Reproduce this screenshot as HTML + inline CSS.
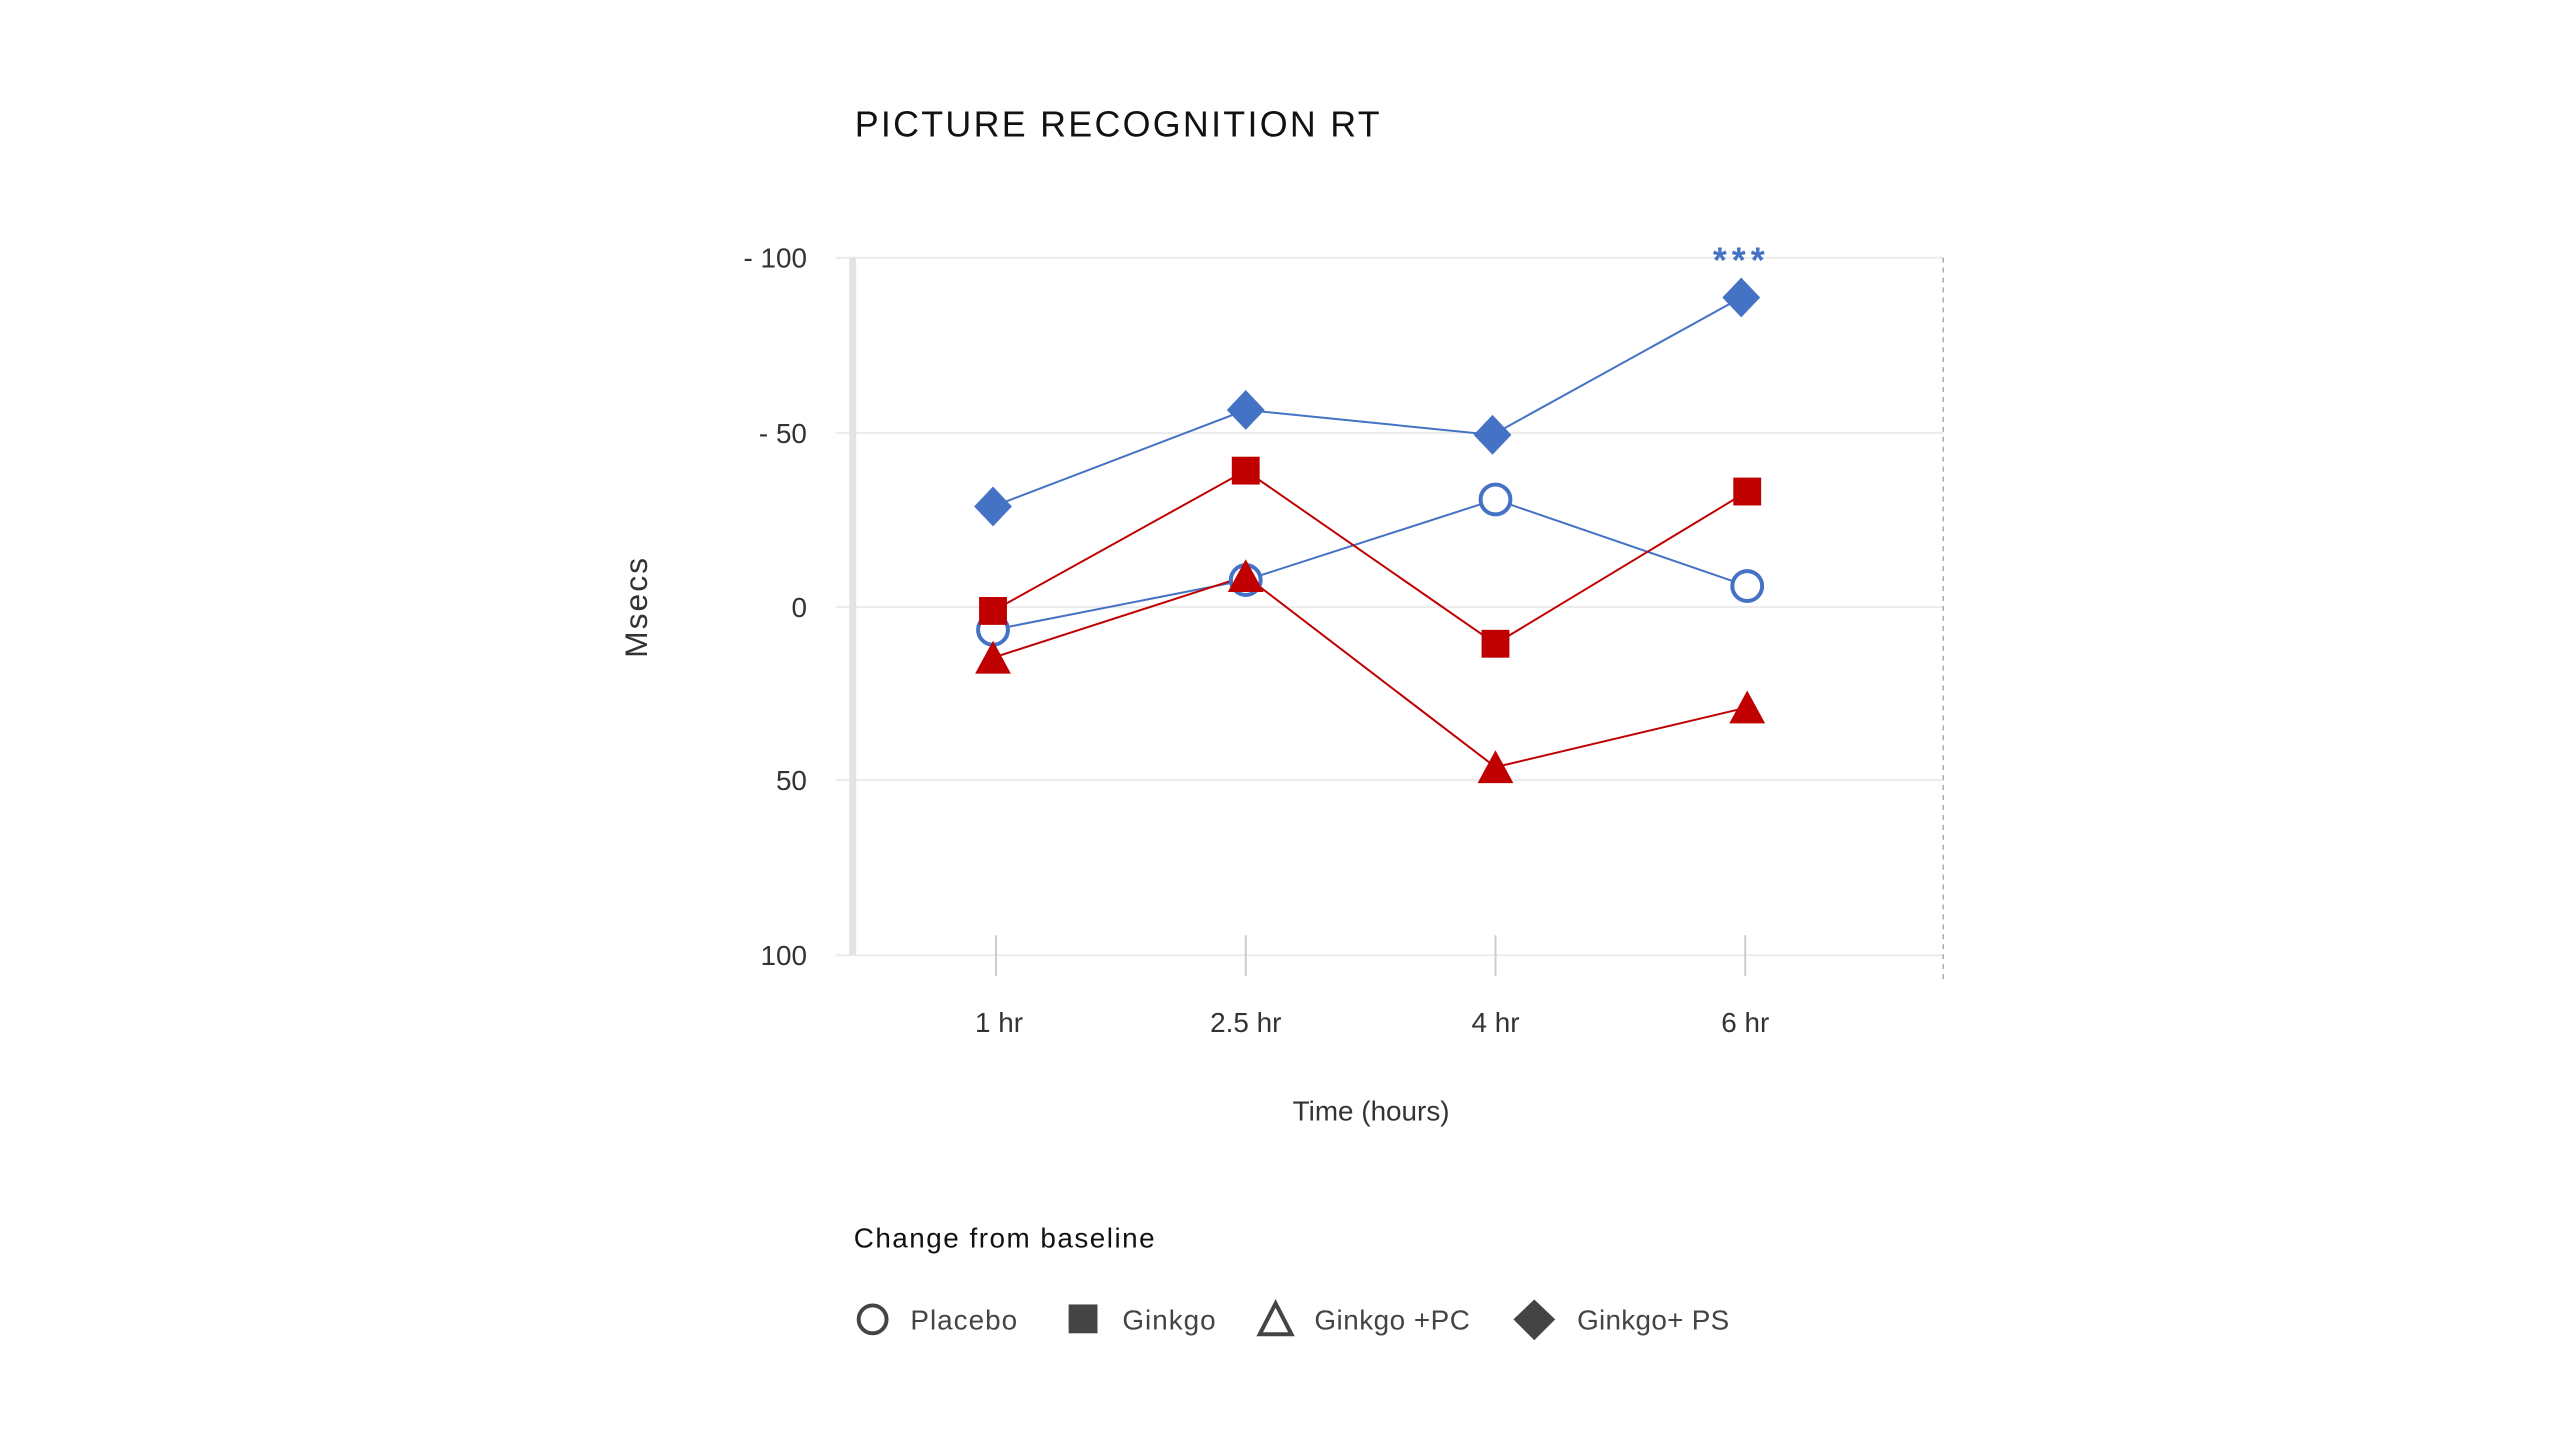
<!DOCTYPE html>
<html><head><meta charset="utf-8"><style>
html,body{margin:0;padding:0;background:#fff;}
svg{display:block;}
text{font-family:"Liberation Sans",sans-serif;}
</style></head><body>
<svg width="2560" height="1440" viewBox="0 0 2560 1440" xmlns="http://www.w3.org/2000/svg">
<rect width="2560" height="1440" fill="#fff"/>
<g transform="scale(0.995)">
<text x="859" y="137" font-size="36" fill="#111" letter-spacing="2.3">PICTURE RECOGNITION RT</text>
<g stroke="#ececec" stroke-width="2">
<line x1="840" y1="259" x2="1953" y2="259"/>
<line x1="840" y1="435" x2="1953" y2="435"/>
<line x1="840" y1="610" x2="1953" y2="610"/>
<line x1="840" y1="784" x2="1953" y2="784"/>
<line x1="840" y1="960" x2="1953" y2="960"/>
</g>
<line x1="857" y1="259" x2="857" y2="960" stroke="#e3e3e6" stroke-width="7"/>
<line x1="1953" y1="259" x2="1953" y2="985" stroke="#aaa" stroke-width="1.5" stroke-dasharray="5,5"/>
<g stroke="#ccc" stroke-width="2">
<line x1="1001" y1="940" x2="1001" y2="981"/><line x1="1252" y1="940" x2="1252" y2="981"/>
<line x1="1503" y1="940" x2="1503" y2="981"/><line x1="1754" y1="940" x2="1754" y2="981"/>
</g>
<g font-size="28" fill="#333" text-anchor="end">
<text x="811" y="269">- 100</text><text x="811" y="445">- 50</text>
<text x="811" y="620">0</text><text x="811" y="794">50</text><text x="811" y="970">100</text>
</g>
<g font-size="28" fill="#333" text-anchor="middle">
<text x="1004" y="1037">1 hr</text><text x="1252" y="1037">2.5 hr</text>
<text x="1503" y="1037">4 hr</text><text x="1754" y="1037">6 hr</text>
<text x="1378" y="1126">Time (hours)</text>
</g>
<text transform="translate(650,610) rotate(-90)" font-size="32" fill="#333" text-anchor="middle" letter-spacing="2">Msecs</text>
<polyline points="998,509 1252,412 1500,437 1750,299" fill="none" stroke="#4472C4" stroke-width="2"/>
<polyline points="998,633 1252,583 1503,502 1756,589" fill="none" stroke="#4472C4" stroke-width="2"/>
<polyline points="998,614 1252,473 1503,647 1756,494" fill="none" stroke="#C00000" stroke-width="2"/>
<polyline points="998,661 1252,579 1503,771 1756,711" fill="none" stroke="#C00000" stroke-width="2"/>
<g fill="#4472C4">
<polygon points="998,489 1017,509 998,529 979,509"/>
<polygon points="1252,392 1271,412 1252,432 1233,412"/>
<polygon points="1500,417 1519,437 1500,457 1481,437"/>
<polygon points="1750,279 1769,299 1750,319 1731,299"/>
</g>
<g fill="#fff" stroke="#4472C4" stroke-width="4">
<circle cx="998" cy="633" r="15"/><circle cx="1252" cy="583" r="15"/>
<circle cx="1503" cy="502" r="15"/><circle cx="1756" cy="589" r="15"/>
</g>
<g fill="#C00000">
<rect x="984" y="600" width="28" height="28"/><rect x="1238" y="459" width="28" height="28"/>
<rect x="1489" y="633" width="28" height="28"/><rect x="1742" y="480" width="28" height="28"/>
</g>
<g fill="#C00000">
<polygon points="998,644 1016,677 980,677"/><polygon points="1252,562 1270,595 1234,595"/>
<polygon points="1503,754 1521,787 1485,787"/><polygon points="1756,694 1774,727 1738,727"/>
</g>
<text x="1750" y="274" font-size="36" font-weight="bold" fill="#4472C4" text-anchor="middle" letter-spacing="5">***</text>
<text x="858" y="1254" font-size="28" fill="#111" letter-spacing="1.5">Change from baseline</text>
<circle cx="877" cy="1326" r="14" fill="none" stroke="#444" stroke-width="4"/>
<text x="915" y="1336" font-size="28" fill="#444" letter-spacing="1">Placebo</text>
<rect x="1074" y="1311" width="29" height="29" fill="#444"/>
<text x="1128" y="1336" font-size="28" fill="#444" letter-spacing="1">Ginkgo</text>
<polygon points="1282,1310 1298,1341 1266,1341" fill="none" stroke="#444" stroke-width="4"/>
<text x="1321" y="1336" font-size="28" fill="#444" letter-spacing="0.5">Ginkgo +PC</text>
<polygon points="1542,1306 1563,1326 1542,1347 1521,1326" fill="#444"/>
<text x="1585" y="1336" font-size="28" fill="#444" letter-spacing="0.3">Ginkgo+ PS</text>
</g>
</svg>
</body></html>
